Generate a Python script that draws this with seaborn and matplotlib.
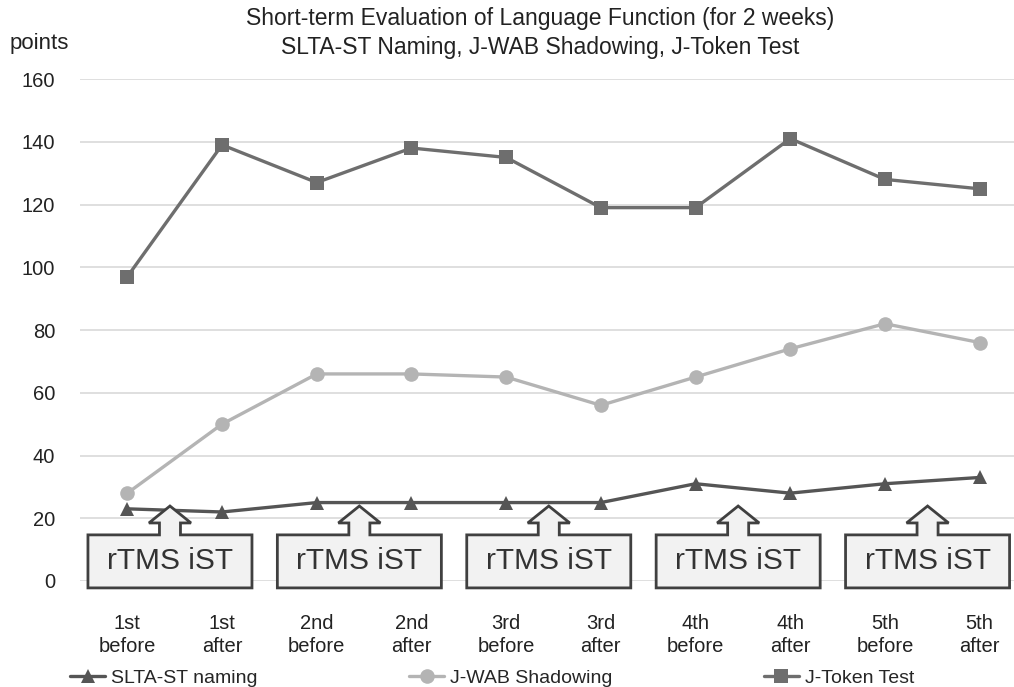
import pandas as pd
import seaborn as sns
import matplotlib.pyplot as plt
from matplotlib.patches import Polygon

# values
sessions = ["1st\nbefore", "1st\nafter", "2nd\nbefore", "2nd\nafter", "3rd\nbefore",
            "3rd\nafter", "4th\nbefore", "4th\nafter", "5th\nbefore", "5th\nafter"]
slta_naming = [23, 22, 25, 25, 25, 25, 31, 28, 31, 33]
jwab_shadowing = [28, 50, 66, 66, 65, 56, 65, 74, 82, 76]
jtoken_test = [97, 139, 127, 138, 135, 119, 119, 141, 128, 125]
series_names = ["SLTA-ST naming", "J-WAB Shadowing", "J-Token Test"]
callout_label = "rTMS iST"
callout_pairs = [0, 2, 4, 6, 8]  # index of the "before" session in each pair

rows = []
for name, vals in zip(series_names, [slta_naming, jwab_shadowing, jtoken_test]):
    for i, v in enumerate(vals):
        rows.append({"session": i, "score": v, "test": name})
df = pd.DataFrame(rows)

sns.set_theme(style="white")
plt.rcParams['font.family'] = ['Liberation Sans', 'DejaVu Sans']

fig = plt.figure(figsize=(10.14, 6.87), dpi=100)
ax = fig.add_axes([80 / 1014, 106 / 687, 947 / 1014, 502 / 687])

palette = {"SLTA-ST naming": "#555555", "J-WAB Shadowing": "#b4b4b4", "J-Token Test": "#6e6e6e"}
markers = {"SLTA-ST naming": "^", "J-WAB Shadowing": "o", "J-Token Test": "s"}
sns.lineplot(data=df, x="session", y="score", hue="test", style="test",
             palette=palette, markers=markers, dashes=False, markersize=10.5,
             linewidth=2.4, markeredgewidth=0, ax=ax, zorder=3)

ax.set_xlim(-0.5, 9.5)
ax.set_ylim(0, 160)
ax.set_yticks(range(0, 161, 20))
ax.set_xticks(range(len(sessions)))
ax.set_xticklabels(sessions, fontsize=14.5, linespacing=1.25, color="#222222")
ax.tick_params(axis="x", pad=24, length=0)
ax.tick_params(axis="y", pad=18, length=0, labelsize=14.5, labelcolor="#222222")
ax.yaxis.grid(True, color="#d9d9d9", linewidth=1.2)
ax.set_axisbelow(True)
for s in ax.spines.values():
    s.set_visible(False)
ax.set_xlabel("")
ax.set_ylabel("")

# rTMS iST arrow callouts
bw, nw, ww = 0.866, 0.111, 0.222
bot, top, hb, tip = -2.2, 14.7, 18.5, 23.9
for k in callout_pairs:
    cx = k + 0.45
    pts = [(cx - bw, bot), (cx + bw, bot), (cx + bw, top), (cx + nw, top), (cx + nw, hb),
           (cx + ww, hb), (cx, tip), (cx - ww, hb), (cx - nw, hb), (cx - nw, top), (cx - bw, top)]
    ax.add_patch(Polygon(pts, closed=True, facecolor="#f2f2f2", edgecolor="#404040",
                         linewidth=2, clip_on=False, zorder=5))
    ax.text(cx, (bot + top) / 2, callout_label, ha="center", va="center",
            fontsize=21.5, color="#333333", zorder=6, clip_on=False)

handles, labels = ax.get_legend_handles_labels()
ax.legend_.remove()
fig.legend(handles, labels, loc="center left", bbox_to_anchor=(70 / 1014, 9 / 687),
           ncol=3, frameon=False, fontsize=14, handlelength=1.8, handletextpad=0.3,
           columnspacing=7.8, borderpad=0, borderaxespad=0)

fig.text(540 / 1014, 1 - 33 / 687,
         "Short-term Evaluation of Language Function (for 2 weeks)\nSLTA-ST Naming, J-WAB Shadowing, J-Token Test",
         ha="center", va="center", fontsize=16.5, linespacing=1.3, color="#222222")
fig.text(10 / 1014, 1 - 44 / 687, "points", ha="left", va="center", fontsize=16, color="#222222")

fig.savefig("out.png", dpi=100)
